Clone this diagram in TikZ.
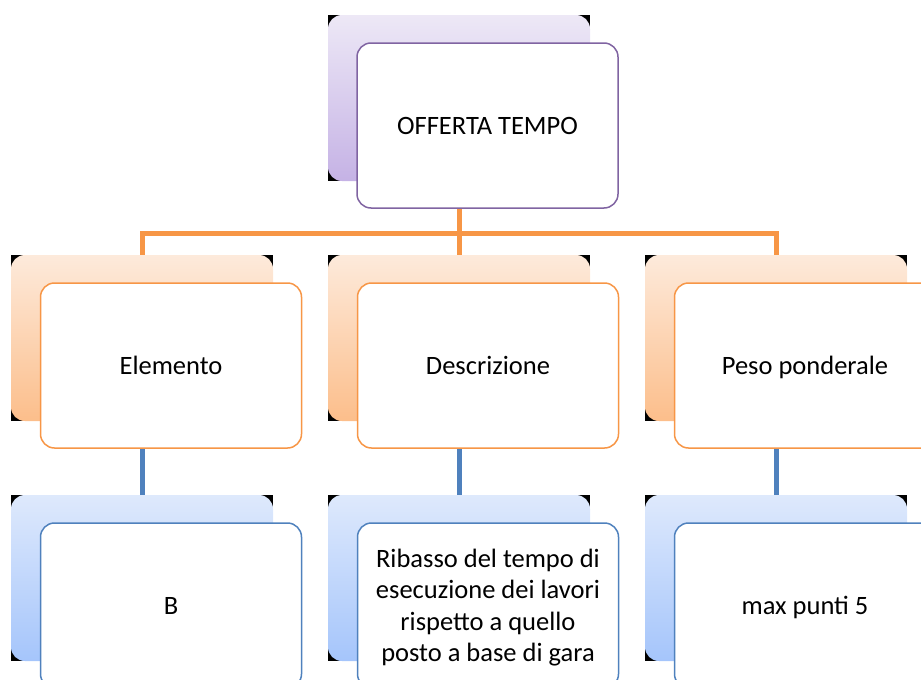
\documentclass[tikz,border=0pt]{standalone}
\usepackage{fontspec}
\setmainfont{Carlito}
\usetikzlibrary{backgrounds}
\definecolor{purpleline}{HTML}{8064A2}
\definecolor{purpletop}{HTML}{EDE8F6}
\definecolor{purplebot}{HTML}{C5B2E5}
\definecolor{orangeline}{HTML}{F79646}
\definecolor{orangetop}{HTML}{FDEADB}
\definecolor{orangebot}{HTML}{FCBE8B}
\definecolor{blueline}{HTML}{4F81BD}
\definecolor{bluetop}{HTML}{DEE9FC}
\definecolor{bluebot}{HTML}{A5C5FB}
\tikzset{
	backbox/.style={minimum width=262pt, minimum height=166pt, inner sep=0pt, rounded corners=14pt},
	frontbox/.style={draw=#1, fill=white, line width=1.5pt, minimum width=261pt, minimum height=165pt,
		inner sep=0pt, rounded corners=14pt, align=center, text depth=0pt, font=\fontsize{26.5}{31.5}\selectfont},
	link/.style={line width=5pt, color=#1}
}
\def\blackcorner(#1){\fill[black] (#1.north west) rectangle (#1.south east);}

\begin{document}
\begin{tikzpicture}[x=1pt, y=-1pt]
		%%%%% START %%%%%
		
		\useasboundingbox (0, 0) rectangle (921, 680);
		\clip (0, 0) rectangle (921, 680);
		
		% top
		\node[backbox, top color=purpletop, bottom color=purplebot] (offB) at (459, 98) {};
		\node[frontbox=purpleline] (off) at (487.5, 125.5) {OFFERTA TEMPO};
		
		% level two
		\node[backbox, top color=orangetop, bottom color=orangebot] (elemB) at (142, 338) {};
		\node[frontbox=orangeline] (elem) at (171, 365.5) {Elemento};
		
		\node[backbox, top color=orangetop, bottom color=orangebot] (descB) at (459, 338) {};
		\node[frontbox=orangeline] (desc) at (488, 365.5) {Descrizione};
		
		\node[backbox, top color=orangetop, bottom color=orangebot] (pesoB) at (776, 338) {};
		\node[frontbox=orangeline] (peso) at (805, 365.5) {Peso ponderale};
		
		% level three
		\node[backbox, top color=bluetop, bottom color=bluebot] (valB) at (142, 578) {};
		\node[frontbox=blueline] (val) at (171, 605.5) {B};
		
		\node[backbox, top color=bluetop, bottom color=bluebot] (ribB) at (459, 578) {};
		\node[frontbox=blueline] (rib) at (488, 605.5) {Ribasso del tempo di\\esecuzione dei lavori\\rispetto a quello\\posto a base di gara};
		
		\node[backbox, top color=bluetop, bottom color=bluebot] (maxB) at (776, 578) {};
		\node[frontbox=blueline] (max) at (805, 605.5) {max punti 5};
		
		\begin{scope}[on background layer]
			\blackcorner(offB)
			\blackcorner(elemB) \blackcorner(descB) \blackcorner(pesoB)
			\blackcorner(valB) \blackcorner(ribB) \blackcorner(maxB)
			
			\coordinate (bar) at (459, 233);
			\draw[link=orangeline] (offB.center |- off.south) -- (bar);
			\draw[link=orangeline] (bar) -| (elemB.north);
			\draw[link=orangeline] (bar) -- (descB.north);
			\draw[link=orangeline] (bar) -| (pesoB.north);
			
			\draw[link=blueline] (elemB.center |- elem.south) -- (valB.north);
			\draw[link=blueline] (descB.center |- desc.south) -- (ribB.north);
			\draw[link=blueline] (pesoB.center |- peso.south) -- (maxB.north);
		\end{scope}
		
		%%%%% END %%%%%
	\end{tikzpicture}
\end{document}
